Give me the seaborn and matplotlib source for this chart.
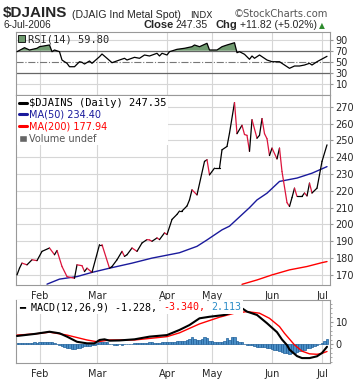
import numpy as np
import pandas as pd
import matplotlib.pyplot as plt
import seaborn as sns
from matplotlib.lines import Line2D
from matplotlib.patches import Patch

# x = trading-day index (0 = mid Jan 2006, 124 = 6-Jul-2006)
price_day = [0, 1, 2, 4, 6, 8, 10, 13, 15, 16, 18, 20, 23, 24, 26, 27, 28, 30, 33, 34,
             37, 38, 40, 42, 43, 44, 46, 48, 50, 52, 53, 54, 56, 57, 59, 60, 62, 64, 65, 66,
             68, 69, 70, 72, 75, 76, 77, 79, 81, 82, 84, 85, 87, 88, 90, 91, 92, 93, 94, 96,
             97, 98, 99, 100, 101, 102, 104, 105, 106, 108, 109, 110, 111, 112, 114, 115, 116, 117, 118, 120,
             121, 122, 124]
price = [170, 174, 177, 176, 179, 178.5, 184, 186, 182, 184.5, 175, 169, 168, 176, 175.5, 172, 174, 171.5, 188, 188,
         174, 175, 179, 184, 181, 182, 186, 184, 189, 191, 190.8, 190, 192, 191, 195, 194, 203, 206, 208, 208,
         211, 214.6, 220.6, 217.6, 237.5, 238.5, 229.5, 233.5, 233.5, 244.4, 246.4, 254.3, 272.5, 254, 259, 253.5, 253, 243.5, 262.3, 251.3,
         253, 263, 254, 251, 241, 245.4, 239, 245.4, 231.5, 213, 210.7, 216, 221.6, 216.7, 216.7, 218.7, 217, 224.6, 218.7, 221.6,
         229.5, 237.5, 247.35]

ma50_day = [12, 17, 24, 30, 37, 46, 54, 65, 72, 76, 82, 85, 89, 93, 96, 100, 105, 112, 118, 124]
ma50 = [164.5, 167.5, 169, 171.5, 174, 177, 180, 183.2, 187, 190.8, 196.8, 199, 204.5, 210, 214.6, 218.6, 225.6, 227.6, 230.5, 234.4]

ma200_day = [90, 96, 102, 109, 116, 122, 124]
ma200 = [164.4, 167, 170, 173, 175, 177.3, 177.94]

rsi_day = [0, 3, 5, 8, 9, 13, 14, 15, 17, 18, 19, 20, 21, 23, 25, 26, 27, 29, 30, 33,
           34, 36, 38, 41, 43, 44, 47, 49, 51, 53, 56, 57, 58, 60, 61, 64, 67, 70, 71, 73,
           76, 77, 80, 82, 84, 87, 88, 89, 91, 93, 94, 95, 97, 100, 102, 105, 107, 109, 111, 113,
           115, 117, 118, 120, 124]
rsi = [68.2, 75.5, 71.3, 74.4, 77.3, 80.4, 68.2, 71.3, 68.2, 53.1, 50, 47.1, 40.9, 40.9, 50, 48.9, 45.8, 51.3, 47.1, 59.1,
       64, 56.2, 48.2, 53.1, 56.2, 53.1, 58, 56.2, 62.2, 60.4, 65.3, 60.4, 65.3, 62.2, 68.2, 72.5, 74.4, 77.3, 80.4, 77.3,
       83.5, 71.3, 71.3, 77.3, 80.4, 84.5, 66.4, 68.2, 63.5, 54.4, 60.4, 56.2, 62.2, 53.1, 50, 50, 44, 38, 42.2, 42.2,
       44, 47.1, 44, 50, 59.8]

macd_day = [0, 7, 13, 17, 20, 24, 28, 31, 33, 35, 37, 41, 47, 53, 60, 65, 69, 73, 77, 83,
            85, 87, 90, 92, 96, 100, 104, 106, 108, 109, 112, 114, 117, 120, 122, 124]
macd = [3.6, 4.5, 5.5, 4.8, 3.3, 1.0, 0.3, 0.3, 1.8, 2.1, 1.5, 1.6, 2.1, 3.3, 4.0, 6.3, 8.5, 11.5, 12.2, 13,
        13.8, 15, 16, 14.5, 13, 9.3, 5.3, 2.0, -0.5, -2.5, -5.4, -6.3, -6.3, -5.5, -4.0, -1.228]

signal_day = [0, 7, 13, 20, 28, 32, 37, 47, 60, 65, 73, 81, 87, 92, 97, 101, 105, 107, 111, 114,
              117, 120, 122, 124]
signal = [4.0, 4.5, 5.3, 4.0, 1.8, 1.0, 1.8, 1.8, 3.3, 5.0, 9.0, 12.0, 13.8, 14.5, 13.8, 11.5, 7.8, 4.8, -0.4, -3.2,
          -4.4, -4.6, -4.2, -3.34]

# histogram, one bar per day 0..124
hist = [0.4, 0.4, 0.5, 0.5, 0.6, 0.5, 0.6, 0.7, 0.6, 0.7, 0.8,
        0.9, 0.9, 0.8, 0.7, 0.4,
        0.1, -0.3, -0.8,
        -1.3, -1.7, -2.0, -2.2, -2.2, -2.0,
        -1.6, -1.3, -1.1, -0.9, -0.7, -0.5, -0.3,
        0.4, 0.9, 1.1, 1.0, 0.7,
        0.1, -0.2, -0.3, -0.3, -0.2, -0.3, -0.2, -0.1, 0.0,
        0.2, 0.3, 0.4, 0.5, 0.5, 0.6, 0.6, 0.7, 0.7, 0.6, 0.5, 0.6, 0.7, 0.8, 0.7, 0.8, 0.9, 1.0, 1.2, 1.4,
        1.5, 1.5, 1.6, 2.2, 3.0,
        2.4, 1.8, 1.8, 2.2, 3.0, 2.8,
        1.5, 1.2, 1.0, 0.9, 0.8, 1.0, 1.3,
        2.5, 1.8, 3.0, 3.3,
        1.5, 1.0, 0.8,
        0.0, -0.4, -0.5, -0.6,
        -1.0, -1.3, -1.4, -1.5, -1.4, -1.6,
        -2.0, -2.4, -2.6, -2.8,
        -3.2, -3.6, -3.9, -4.2, -4.3, -4.1, -3.8,
        -3.4, -3.1, -2.8, -2.5,
        -2.0, -1.6, -1.3, -0.9,
        -0.5, -0.2, 0.6, 1.2, 2.1]

month_day = [9, 32, 60, 78, 102, 122]
month_lbl = ["Feb", "Mar", "Apr", "May", "Jun", "Jul"]

sns.set_style("white")
plt.rcParams["font.family"] = ["DejaVu Sans"]

W, H = 360, 384
fig = plt.figure(figsize=(W / 100, H / 100), dpi=100)


def panel(l, t, r, b):
    return fig.add_axes([l / W, 1 - b / H, (r - l) / W, (b - t) / H])


def T(x, y, s, **kw):
    return fig.text(x / W, 1 - y / H, s, **kw)


ax_r = panel(16, 32, 330, 95)
ax_p = panel(16, 95, 330, 285)
ax_m = panel(16, 300, 330, 363)

grid_c = "#d6d6d6"
for ax in (ax_r, ax_p, ax_m):
    ax.set_xlim(-0.4, 125.2)
    ax.set_xticks(month_day)
    for sp in ax.spines.values():
        sp.set_color("#999999")
        sp.set_linewidth(0.8)
    ax.yaxis.tick_right()
    ax.tick_params(axis="both", labelsize=7, length=2, color="#999999", pad=2)
    for d in month_day:
        ax.axvline(d, color=grid_c, lw=0.8, zorder=0)

# ---- RSI
ax_r.set_ylim(-10.5, 104)
ax_r.set_yticks([10, 30, 50, 70, 90])
ax_r.set_xticklabels([])
ax_r.tick_params(axis="x", length=0)
for v in (10, 90):
    ax_r.axhline(v, color=grid_c, lw=0.8, zorder=0)
ax_r.axhline(70, color="#666666", lw=0.9)
ax_r.axhline(30, color="#666666", lw=0.9)
ax_r.axhline(50, color="#777777", lw=0.8, ls="-.")
ax_r.fill_between(rsi_day, 70, rsi, where=np.array(rsi) > 70, interpolate=True,
                  color="#6f9a6f", lw=0, zorder=2)
sns.lineplot(x=rsi_day, y=rsi, ax=ax_r, color="black", lw=0.9, legend=False, zorder=3)
ax_r.set_ylabel("")
ax_r.legend(handles=[Patch(facecolor="#6f9a6f", edgecolor="black", lw=0.6)],
            labels=["RSI(14) 59.80"], loc="upper left", frameon=False,
            prop={"family": "DejaVu Sans Mono", "size": 7.5},
            handlelength=0.7, handleheight=0.7, handletextpad=0.3,
            borderaxespad=0.1, borderpad=0.1)

# ---- price
ax_p.set_ylim(164, 277)
ax_p.set_yticks(range(170, 271, 10))
for v in range(170, 271, 10):
    ax_p.axhline(v, color=grid_c, lw=0.8, zorder=0)
ax_p.set_xticklabels(month_lbl)
for i in range(len(price) - 1):
    c = "black" if price[i + 1] >= price[i] else "#dc143c"
    ax_p.plot(price_day[i:i + 2], price[i:i + 2], color=c, lw=0.9, zorder=3)
sns.lineplot(x=ma50_day, y=ma50, ax=ax_p, color="#1a1a9c", lw=1.0, legend=False, zorder=2)
sns.lineplot(x=ma200_day, y=ma200, ax=ax_p, color="#ff0000", lw=1.0, legend=False, zorder=2)
ax_p.set_ylabel("")
handles = [Line2D([], [], color="black", lw=2.2),
           Line2D([], [], color="#1a1a9c", lw=2.2),
           Line2D([], [], color="#ff0000", lw=2.2),
           Patch(facecolor="#666666")]
labels = ["$DJAINS (Daily) 247.35", "MA(50) 234.40", "MA(200) 177.94", "Volume undef"]
leg = ax_p.legend(handles=handles, labels=labels, loc="upper left",
                  fontsize=7, handlelength=0.8, handletextpad=0.25, labelspacing=0.2,
                  borderaxespad=0.15, borderpad=0.15, frameon=True, fancybox=False,
                  facecolor="white", edgecolor="none", framealpha=1)
for t, c in zip(leg.get_texts(), ["black", "#1a1a9c", "#ff0000", "#555555"]):
    t.set_color(c)
leg.get_texts()[0].set_fontfamily("DejaVu Sans Mono")
leg.get_texts()[0].set_fontsize(7.5)

# ---- MACD
ax_m.set_ylim(-8.5, 19.7)
ax_m.set_yticks([0, 10])
ax_m.set_yticks(np.arange(-8, 20, 2), minor=True)
ax_m.tick_params(axis="y", which="minor", length=1.5, color="#999999")
ax_m.set_xticklabels(month_lbl)
ax_m.set_xticks(np.arange(2, 125, 5), minor=True)
ax_m.tick_params(axis="x", which="minor", length=1.5, color="#999999")
ax_m.bar(range(len(hist)), hist, width=1.0, color="#4a8fc7", edgecolor="#1f5f99", lw=0.5, zorder=2)
sns.lineplot(x=signal_day, y=signal, ax=ax_m, color="#ff0000", lw=1.0, legend=False, zorder=3)
sns.lineplot(x=macd_day, y=macd, ax=ax_m, color="black", lw=1.5, legend=False, zorder=4)
ax_m.set_ylabel("")

mono = {"family": "DejaVu Sans Mono", "size": 7.2}
wbox = dict(facecolor="white", edgecolor="none", pad=1.2)
T(19, 310, "\u2501 MACD(12,26,9) -1.228,", color="black", fontdict=mono, bbox=wbox)
T(163, 310, "-3.340,", color="#ff0000", fontdict=mono, bbox=wbox)
T(211, 310, "2.113", color="#2a8cc8", fontdict=mono, bbox=wbox)

# ---- header
T(3, 17.5, "$DJAINS", fontsize=11, fontweight="bold", family="Liberation Sans")
T(72, 17.5, "(DJAIG Ind Metal Spot)", fontsize=7.6, family="Liberation Sans")
T(190, 17.5, "INDX", fontsize=6.5)
T(328, 17, "\u00a9StockCharts.com", fontsize=7.2, color="#555555", ha="right")
T(3, 28, "6-Jul-2006", fontsize=7.2, family="Liberation Sans")
T(143, 28, "Close", fontsize=8, fontweight="bold", family="Liberation Sans")
T(175, 28, "247.35", fontsize=7.6, family="Liberation Sans")
T(216, 28, "Chg", fontsize=8, fontweight="bold", family="Liberation Sans")
T(240, 28, "+11.82 (+5.02%)", fontsize=7.5, family="Liberation Sans")
T(319, 28, "\u25b2", fontsize=5.5, color="#2e8b2e")

plt.savefig("out.png", dpi=100)
